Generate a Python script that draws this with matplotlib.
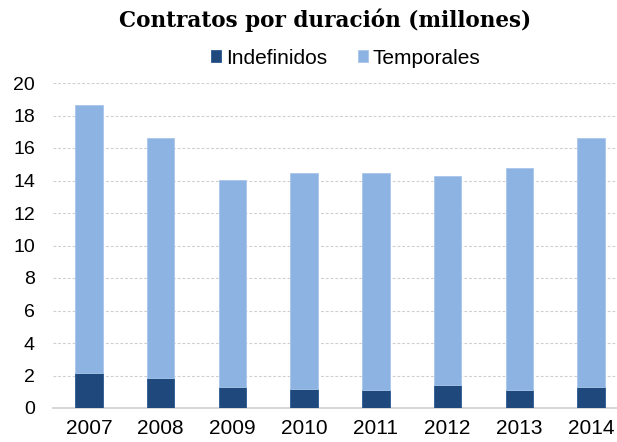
import matplotlib
matplotlib.use("Agg")
import matplotlib.pyplot as plt
import numpy as np

# Datos (millones de contratos)
anios = ["2007", "2008", "2009", "2010", "2011", "2012", "2013", "2014"]
indefinidos = [2.18, 1.84, 1.31, 1.19, 1.11, 1.43, 1.11, 1.31]
temporales = [16.48, 14.75, 12.71, 13.28, 13.36, 12.82, 13.67, 15.28]

color_indef = "#1F497D"
color_temp = "#8DB3E2"

fig = plt.figure(figsize=(6.17, 4.42), dpi=100)
# eje recortado a la derecha como en el original
ax = fig.add_axes([53 / 617, 34 / 442, 574 / 617, 325 / 442])

x = np.arange(len(anios))
ax.bar(x, indefinidos, width=0.38, color=color_indef, edgecolor="#2A5A92",
       linewidth=0.6, label="Indefinidos", zorder=3)
ax.bar(x, temporales, width=0.38, bottom=indefinidos, color=color_temp,
       edgecolor="#A9C6EA", linewidth=0.6, label="Temporales", zorder=3)

ax.set_xlim(-0.5, len(anios) - 0.5)
ax.set_ylim(0, 20)
ax.set_yticks(range(0, 21, 2))
ax.set_xticks(x)
ax.set_xticklabels(anios)

ax.grid(axis="y", color="#CFCFCF", linestyle=(0, (2.5, 1.8)), linewidth=0.8, zorder=0)
for lado in ["top", "right", "left"]:
    ax.spines[lado].set_visible(False)
ax.spines["bottom"].set_color("#D0D0D0")
ax.spines["bottom"].set_linewidth(1.2)
ax.tick_params(length=0)
ax.tick_params(axis="x", labelsize=15, pad=8)
ax.tick_params(axis="y", labelsize=14, pad=13)
for t in ax.get_xticklabels() + ax.get_yticklabels():
    t.set_fontfamily("Liberation Sans")

fig.text(325 / 617, 1 - 20 / 442, "Contratos por duración (millones)",
         ha="center", va="center", fontsize=15.5, fontweight="bold",
         family="DejaVu Serif")

fig.legend(loc="center", bbox_to_anchor=(346 / 617, 1 - 58 / 442), ncol=2,
           frameon=False, handlelength=0.45, handleheight=0.45,
           handletextpad=0.25, columnspacing=1.5,
           prop={"family": "Liberation Sans", "size": 15})

fig.savefig("out.png", dpi=100)
